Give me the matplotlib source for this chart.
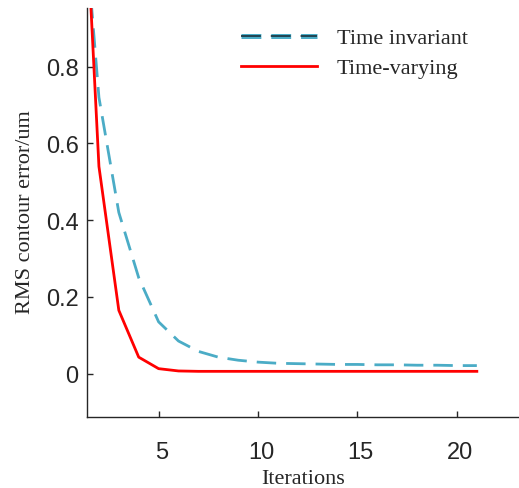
import matplotlib
matplotlib.use("Agg")
import matplotlib.pyplot as plt
from matplotlib.lines import Line2D
import matplotlib.patheffects as pe
import matplotlib.transforms as mtransforms

iterations = list(range(1, 22))
time_invariant = [1.36, 0.72, 0.42, 0.25, 0.135, 0.085, 0.058, 0.043, 0.035, 0.030,
                  0.027, 0.026, 0.025, 0.024, 0.024, 0.023, 0.023, 0.022, 0.022, 0.021, 0.021]
time_varying = [1.57, 0.54, 0.165, 0.043, 0.013, 0.007, 0.006, 0.006, 0.006, 0.006,
                0.006, 0.006, 0.006, 0.006, 0.006, 0.006, 0.006, 0.006, 0.006, 0.006, 0.006]
series_labels = ["Time invariant", "Time-varying"]
x_ticks = [5, 10, 15, 20]
y_ticks = [0, 0.2, 0.4, 0.6, 0.8]
y_tick_labels = ["0", "0.2", "0.4", "0.6", "0.8"]

blue = "#4BACC6"
red = "#FF0000"
ink = "#262626"

W, H = 519, 488
fig = plt.figure(figsize=(W / 100, H / 100), dpi=100)
ax = fig.add_axes([87 / W, 1 - 417 / H, (519 - 87) / W, (417 - 8) / H])

ax.plot(iterations, time_invariant, color=blue, lw=2.0, linestyle=(0, (7, 3.6)))
ax.plot(iterations, time_varying, color=red, lw=2.0)

ax.set_xlim(1.4, 23.12)
ax.set_ylim(-0.113, 0.953)
ax.set_xticks(x_ticks)
ax.set_yticks(y_ticks)
ax.set_yticklabels(y_tick_labels)

for s in ["top", "right"]:
    ax.spines[s].set_visible(False)
for s in ["left", "bottom"]:
    ax.spines[s].set_color(ink)
    ax.spines[s].set_linewidth(1.0)

ax.tick_params(direction="in", length=4, width=1.0, color=ink,
               labelsize=17, labelcolor=ink, pad=6)
ax.tick_params(axis="x", pad=18)
for lab in ax.get_xticklabels() + ax.get_yticklabels():
    lab.set_fontfamily("Liberation Sans")
xoff = mtransforms.ScaledTranslation(3 / 100, 0, fig.dpi_scale_trans)
for lab in ax.get_xticklabels():
    lab.set_transform(lab.get_transform() + xoff)
yoff = mtransforms.ScaledTranslation(0, -1 / 100, fig.dpi_scale_trans)
for lab in ax.get_yticklabels():
    lab.set_transform(lab.get_transform() + yoff)

ax.set_xlabel("Iterations", fontfamily="Liberation Serif", fontsize=16, color=ink, labelpad=4)
ax.set_ylabel("RMS contour error/um", fontfamily="Liberation Serif", fontsize=16, color=ink, labelpad=8)

h1 = Line2D([], [], color="#1d3c48", lw=1.3, linestyle=(0, (11, 5.5)),
            path_effects=[pe.Stroke(linewidth=3.6, foreground=blue), pe.Normal()])
h2 = Line2D([], [], color=red, lw=2.0)
leg = fig.legend([h1, h2], series_labels, loc="upper left",
                 bbox_to_anchor=(241 / W, 1 - 28 / H), frameon=False,
                 prop={"family": "Liberation Serif", "size": 16},
                 handlelength=3.4, handletextpad=0.9, labelspacing=0.45,
                 borderpad=0, borderaxespad=0)
for t in leg.get_texts():
    t.set_color(ink)

fig.savefig("out.png", dpi=100)
